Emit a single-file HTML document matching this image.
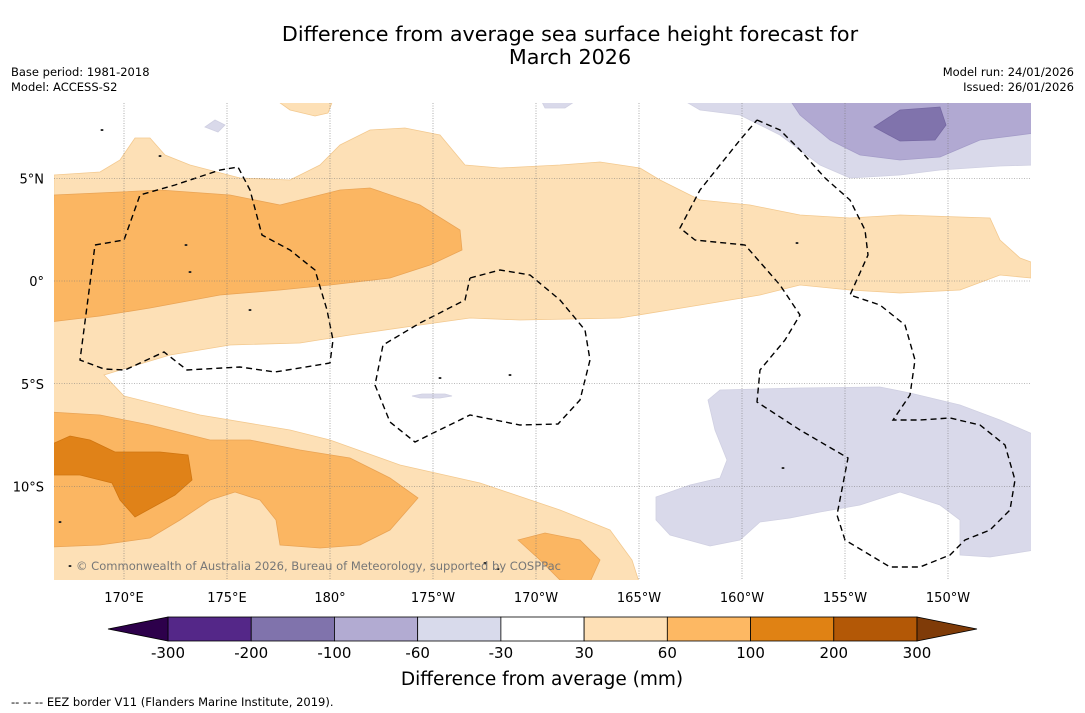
<!DOCTYPE html>
<html><head><meta charset="utf-8"><style>
body{margin:0;background:#fff;font-family:"DejaVu Sans","Liberation Sans",sans-serif}
svg{display:block}
</style></head><body>
<svg width="1085" height="713" viewBox="0 0 1085 713" xmlns="http://www.w3.org/2000/svg" font-family="DejaVu Sans, Liberation Sans, sans-serif">
<rect width="1085" height="713" fill="#fff"/>
<text x="570" y="41" font-size="20.7" text-anchor="middle">Difference from average sea surface height forecast for</text>
<text x="570" y="64" font-size="20.7" text-anchor="middle">March 2026</text>
<text x="11" y="76" font-size="11.5">Base period: 1981-2018</text>
<text x="11" y="91" font-size="11.5">Model: ACCESS-S2</text>
<text x="1074" y="76" font-size="11.5" text-anchor="end">Model run: 24/01/2026</text>
<text x="1074" y="91" font-size="11.5" text-anchor="end">Issued: 26/01/2026</text>
<g id="map"></g>
<g id="cbar"></g>
<text x="542" y="685" font-size="18.5" text-anchor="middle">Difference from average (mm)</text>
<text x="11" y="706" font-size="11.5">--  --  -- EEZ border V11 (Flanders Marine Institute, 2019).</text>
</svg>
<script>
const lonTicks=[170,175,180,185,190,195,200,205,210];
const lonLabels=["170°E","175°E","180°","175°W","170°W","165°W","160°W","155°W","150°W"];
const latTicks=[5,0,-5,-10];
const latLabels=["5°N","0°","5°S","10°S"];
const levels=[-300,-200,-100,-60,-30,30,60,100,200,300];
const levelColors=["#542788","#8073ac","#b2abd2","#d8daeb","#ffffff","#fee0b6","#fdb863","#e08214","#b35806"];
const NS="http://www.w3.org/2000/svg";
const X0=54,X1=1031,Y0=103,Y1=580;
const xLon=l=>124+(l-170)*20.6;
const yLat=l=>281-l*20.55;
function el(t,a,p){const e=document.createElementNS(NS,t);for(const k in a)e.setAttribute(k,a[k]);p.appendChild(e);return e;}
const map=document.getElementById('map');
const defs=el('defs',{},map);
const cp=el('clipPath',{id:'clip'},defs);el('rect',{x:X0,y:Y0,width:X1-X0,height:Y1-Y0},cp);
const g=el('g',{'clip-path':'url(#clip)'},map);
const shapes=[
["light-orange-region","#fde0b6","#f3c98f",[[54,175],[100,172],[120,160],[135,138],[150,138],[165,155],[190,165],[240,178],[290,180],[320,165],[340,145],[370,130],[405,128],[440,135],[465,165],[500,168],[560,165],[600,162],[640,168],[660,180],[700,200],[750,205],[800,215],[850,218],[900,215],[990,218],[1000,240],[1020,258],[1031,262],[1031,278],[1000,275],[960,290],[900,293],[850,290],[800,285],[760,295],[700,305],[620,318],[520,320],[470,318],[420,325],[350,335],[300,343],[230,345],[170,355],[130,367],[104,375],[124,396],[200,415],[290,430],[330,440],[400,465],[480,483],[560,510],[610,530],[632,560],[640,585],[50,585]]],
["light-orange-blob","#fde0b6","#f3c98f",[[276,100],[290,110],[315,116],[328,113],[333,100]]],
["mid-orange-north","#fbb662","#eaa455",[[54,195],[120,192],[160,190],[230,195],[280,205],[340,190],[370,188],[420,205],[460,230],[462,250],[430,265],[390,278],[330,285],[280,290],[220,295],[150,308],[100,316],[50,322]]],
["mid-orange-south","#fbb662","#eaa455",[[50,412],[100,415],[150,425],[210,440],[250,440],[300,450],[350,458],[390,478],[418,498],[390,530],[360,545],[320,548],[280,545],[276,520],[260,500],[235,492],[210,500],[180,520],[150,538],[100,545],[50,547]]],
["mid-orange-blob","#fbb662","#eaa455",[[518,540],[545,533],[580,540],[600,560],[590,582],[560,580],[540,560]]],
["dark-orange-region","#e08218","#d07510",[[50,445],[70,436],[90,440],[115,452],[160,452],[188,455],[192,480],[175,495],[135,517],[120,500],[112,483],[80,475],[50,475]]],
["light-purple-north","#d9d9ea","#d0d0e2",[[683,100],[700,110],[740,115],[780,135],[820,165],[850,178],[900,175],[940,170],[1000,166],[1035,165],[1035,100]]],
["light-purple-bit","#d9d9ea","#d0d0e2",[[541,100],[545,108],[565,108],[577,100]]],
["light-purple-bit2","#d9d9ea","#d0d0e2",[[205,127],[215,120],[225,125],[218,132]]],
["mid-purple-north","#b1a9d2","#a49cc8",[[790,100],[800,115],[830,140],[860,155],[900,160],[940,157],[980,140],[1035,133],[1035,100]]],
["dark-purple-north","#8073ac","#7568a2",[[874,127],[900,110],[940,107],[946,125],[935,140],[900,141]]],
["light-purple-south","#d9d9ea","#d0d0e2",[[708,400],[720,390],[800,388],[880,387],[910,393],[960,405],[1000,420],[1035,435],[1035,550],[990,557],[960,555],[960,520],[940,505],[900,492],[860,505],[820,512],[790,518],[760,522],[740,540],[710,546],[670,535],[656,520],[656,497],[690,485],[720,478],[727,460],[715,430]]],
["light-purple-sliver","#d9d9ea","#d0d0e2",[[412,396],[422,394],[445,394],[452,396],[440,398],[420,398]]]
];
for(const s of shapes){
const p=el('polygon',{points:s[3].map(q=>q.join(',')).join(' '),fill:s[1],stroke:s[2],'stroke-width':0.8},g);


}
lonTicks.forEach((l,i)=>{
const x=xLon(l);
const ln=el('line',{x1:x,x2:x,y1:Y0,y2:Y1,stroke:'#777','stroke-width':0.6,'stroke-dasharray':'1,1.5'},map);


const t=el('text',{x:x,y:602,'font-size':13,'text-anchor':'middle'},map);t.textContent=lonLabels[i];


});
latTicks.forEach((l,i)=>{
const y=yLat(l);
const ln=el('line',{x1:X0,x2:X1,y1:y,y2:y,stroke:'#777','stroke-width':0.6,'stroke-dasharray':'1,1.5'},map);


const t=el('text',{x:44,y:y+5,'font-size':13,'text-anchor':'end'},map);t.textContent=latLabels[i];


});
const eez=[
[[95,245],[124,240],[140,195],[175,185],[220,170],[238,167],[250,190],[262,235],[290,250],[315,270],[327,310],[333,340],[330,363],[275,372],[240,367],[187,370],[164,352],[125,370],[104,369],[80,360],[95,245]],
[[470,278],[500,270],[530,275],[560,300],[585,330],[590,360],[580,400],[558,424],[520,425],[470,415],[415,442],[390,422],[375,385],[383,345],[420,323],[465,300],[470,278]],
[[757,120],[780,130],[800,150],[825,178],[850,200],[865,230],[868,255],[850,295],[880,305],[905,325],[915,360],[910,395],[893,420],[920,420],[950,418],[980,425],[1005,445],[1015,480],[1010,510],[990,530],[965,540],[950,555],[920,567],[890,567],[870,555],[845,540],[837,515],[848,458],[800,430],[757,402],[760,370],[785,340],[800,315],[780,285],[745,245],[695,240],[680,228],[700,190],[740,140],[757,120]]
];
eez.forEach(pts=>{
const pl=el('polyline',{points:pts.map(q=>q.join(',')).join(' '),fill:'none',stroke:'#000','stroke-width':1.4,'stroke-dasharray':'6,4'},g);


});
const islands=[[70,566],[60,522],[485,563],[498,569],[186,245],[190,272],[783,468],[797,243],[102,130],[160,156],[250,310],[440,378],[510,375]];
islands.forEach(q=>{
const c=el('ellipse',{cx:q[0],cy:q[1],rx:1.5,ry:1,fill:'#222'},g);


});
const cr=el('text',{x:76,y:570,'font-size':11.5,fill:'#777',textLength:485,lengthAdjust:'spacingAndGlyphs'},map);cr.textContent='© Commonwealth of Australia 2026, Bureau of Meteorology, supported by COSPPac';


const cb=document.getElementById('cbar');
const cx0=168,cx1=917,cy=617,ch=24;
const cw=(cx1-cx0)/levelColors.length;
levelColors.forEach((c,i)=>{
const r=el('rect',{x:cx0+i*cw,y:cy,width:cw,height:ch,fill:c,stroke:'#000','stroke-width':0.8},cb);


});
const tl=el('polygon',{points:`108,${cy+ch/2} ${cx0},${cy} ${cx0},${cy+ch}`,fill:'#2d004b',stroke:'#000','stroke-width':0.8},cb);


const tr=el('polygon',{points:`977,${cy+ch/2} ${cx1},${cy} ${cx1},${cy+ch}`,fill:'#7f3b08',stroke:'#000','stroke-width':0.8},cb);


levels.forEach((v,i)=>{
const t=el('text',{x:cx0+i*cw,y:658,'font-size':15,'text-anchor':'middle'},cb);t.textContent=v;


});
</script>
</body></html>
